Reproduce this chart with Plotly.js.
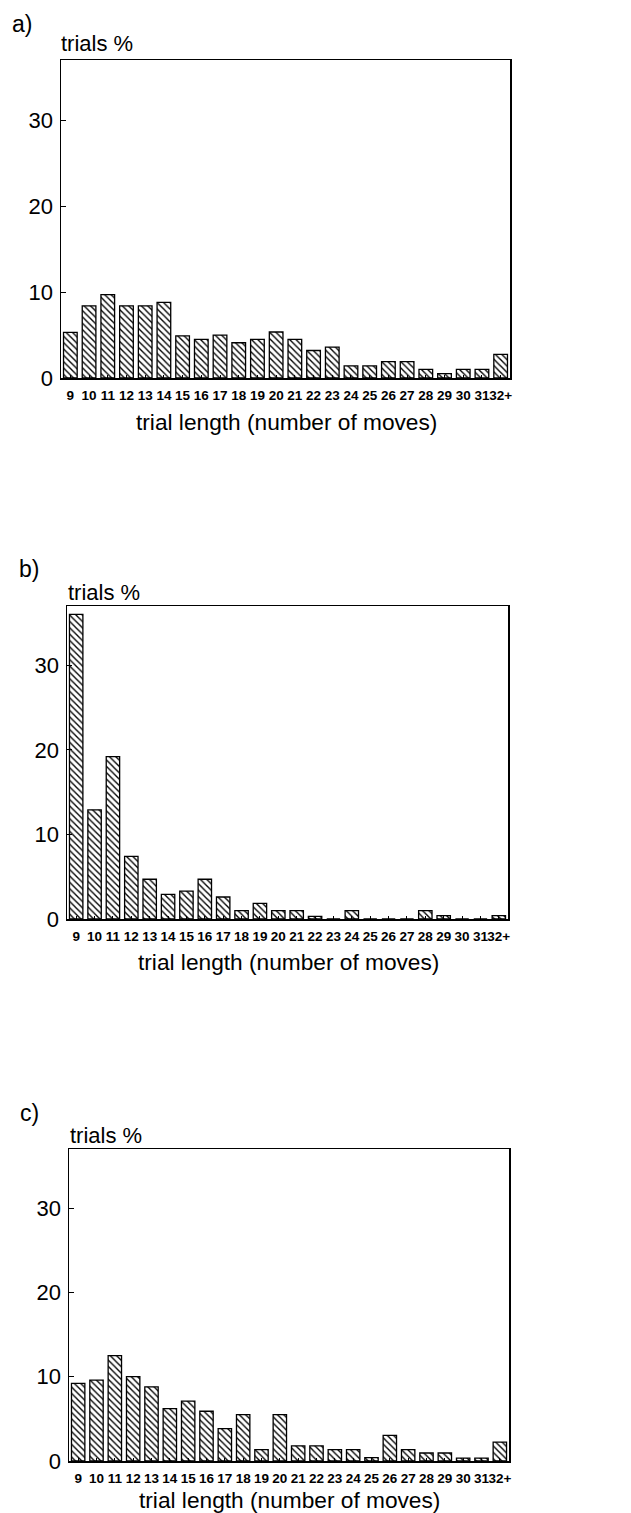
<!DOCTYPE html>
<html>
<head>
<meta charset="utf-8">
<script src="https://cdn.plot.ly/plotly-3.0.1.min.js"></script>
<style>html,body{margin:0;padding:0;background:#fff;}</style>
</head>
<body>
<div id="chart" style="width:631px;height:1513px;"></div>
<script>
const categories = ['9','10','11','12','13','14','15','16','17','18','19','20','21','22','23','24','25','26','27','28','29','30','31','32+'];
const valuesA = [5.3, 8.4, 9.7, 8.4, 8.4, 8.8, 4.9, 4.5, 5.0, 4.1, 4.5, 5.35, 4.5, 3.2, 3.6, 1.4, 1.4, 1.9, 1.9, 1.0, 0.5, 1.0, 1.0, 2.75];
const valuesB = [36.0, 12.9, 19.2, 7.4, 4.7, 2.9, 3.3, 4.7, 2.6, 1.0, 1.85, 1.0, 1.0, 0.3, 0, 1.0, 0, 0, 0, 1.0, 0.4, 0, 0, 0.4];
const valuesC = [9.2, 9.6, 12.5, 10.0, 8.8, 6.2, 7.1, 5.9, 3.85, 5.5, 1.35, 5.5, 1.8, 1.8, 1.35, 1.35, 0.4, 3.05, 1.35, 0.95, 0.95, 0.35, 0.35, 2.25];
const panelLabels = ['a)', 'b)', 'c)'];
const yTitle = 'trials %';
const xTitle = 'trial length (number of moves)';
const yTickVals = [0, 10, 20, 30];

const W = 631, H = 1513;
const FONT = 'Liberation Sans, Arial, Helvetica, sans-serif';

// panel boxes in pixels: [left, right, top, bottom]
const boxes = [
  [61, 510, 60, 378],
  [67, 508, 606, 919],
  [69, 509, 1149, 1461]
];
const series = [valuesA, valuesB, valuesC];

const traces = [];
const layout = {
  width: W, height: H,
  margin: {l: 0, r: 0, t: 0, b: 0},
  paper_bgcolor: 'white', plot_bgcolor: 'white',
  showlegend: false,
  bargap: 0.27,
  font: {family: FONT, color: 'black'},
  annotations: []
};

boxes.forEach((b, i) => {
  const n = i === 0 ? '' : String(i + 1);
  traces.push({
    type: 'bar',
    x: categories,
    y: series[i],
    xaxis: 'x' + n,
    yaxis: 'y' + n,
    marker: {
      color: 'white',
      line: {color: 'black', width: 1.3},
      pattern: {shape: '\\', size: 4.5, solidity: 0.3, fgcolor: 'black', bgcolor: 'white'}
    },
    hoverinfo: 'skip'
  });
  layout['xaxis' + n] = {
    domain: [b[0] / W, b[1] / W],
    anchor: 'y' + n,
    type: 'category',
    range: [-0.5, 23.5],
    showline: true, mirror: true, linecolor: 'black', linewidth: 1.5,
    showgrid: false, zeroline: false,
    ticks: 'inside', ticklen: 3, tickcolor: 'black', tickwidth: 1,
    tickangle: 0,
    ticklabelstandoff: 4,
    tickfont: {family: FONT, size: 13.5, color: 'black', weight: 'bold'},
    fixedrange: true
  };
  layout['yaxis' + n] = {
    domain: [1 - b[3] / H, 1 - b[2] / H],
    anchor: 'x' + n,
    range: [0, 37],
    tickvals: yTickVals,
    showline: true, mirror: true, linecolor: 'black', linewidth: 1.5,
    showgrid: false, zeroline: false,
    ticks: 'inside', ticklen: 5, tickcolor: 'black', tickwidth: 1,
    ticklabelstandoff: 2,
    tickfont: {family: FONT, size: 22, color: 'black'},
    fixedrange: true
  };
});

// text placements (pixels)
const labelPos = [[10, 24], [17, 569], [18, 1113]];
const yTitlePos = [[59, 44], [66, 592], [68, 1135]];
const xTitlePos = [[286, 422], [288, 962], [289, 1500]];

for (let i = 0; i < 3; i++) {
  layout.annotations.push({
    xref: 'paper', yref: 'paper', x: labelPos[i][0] / W, y: 1 - labelPos[i][1] / H,
    xanchor: 'left', yanchor: 'middle', showarrow: false,
    text: panelLabels[i], font: {family: FONT, size: 23, color: 'black'}
  });
  layout.annotations.push({
    xref: 'paper', yref: 'paper', x: yTitlePos[i][0] / W, y: 1 - yTitlePos[i][1] / H,
    xanchor: 'left', yanchor: 'middle', showarrow: false,
    text: yTitle, font: {family: FONT, size: 22, color: 'black'}
  });
  layout.annotations.push({
    xref: 'paper', yref: 'paper', x: xTitlePos[i][0] / W, y: 1 - xTitlePos[i][1] / H,
    xanchor: 'center', yanchor: 'middle', showarrow: false,
    text: xTitle, font: {family: FONT, size: 22.7, color: 'black'}
  });
}

Plotly.newPlot('chart', traces, layout, {staticPlot: true, displayModeBar: false});
</script>
</body>
</html>
